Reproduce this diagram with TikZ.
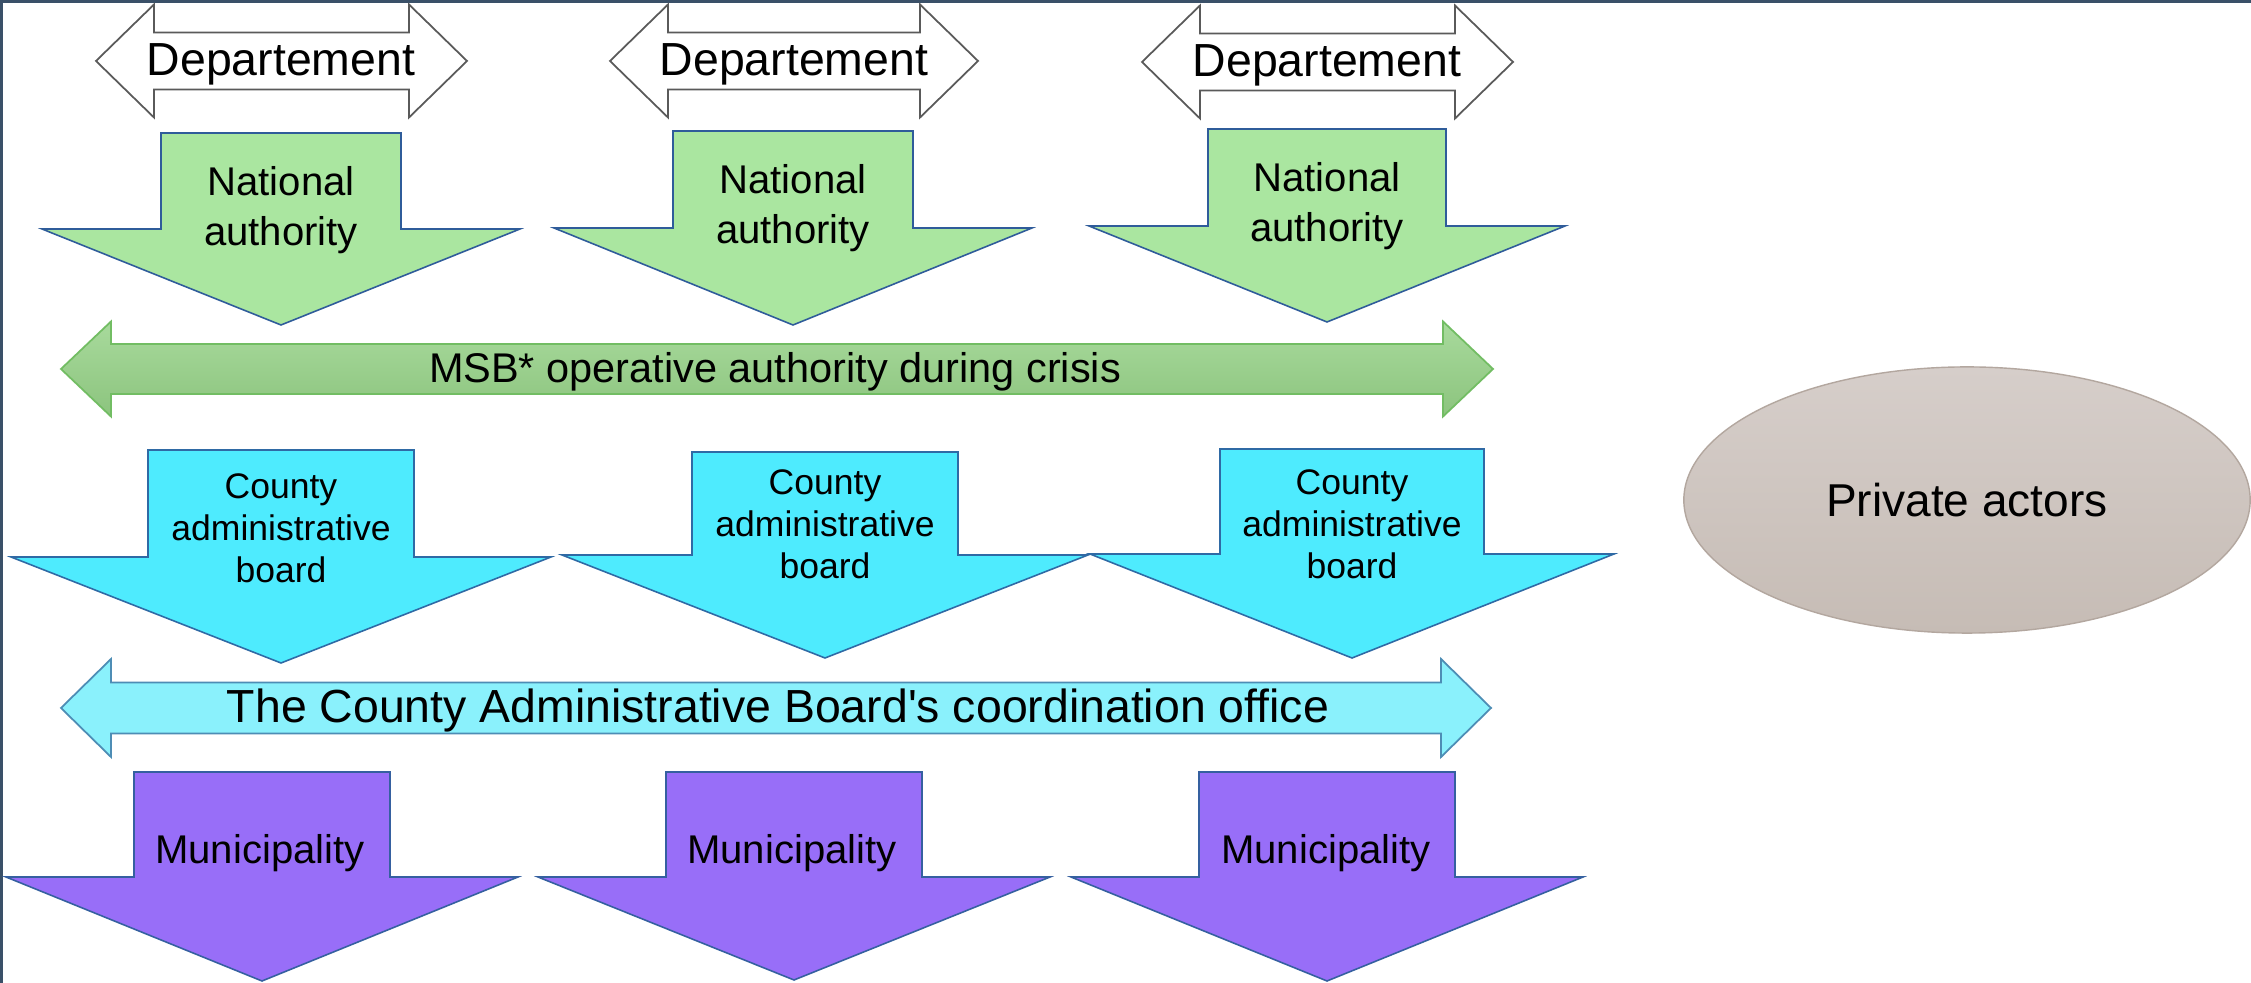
\documentclass[tikz,border=0pt]{standalone}
\usepackage{fontspec}
\setmainfont{Liberation Sans}
\usetikzlibrary{shapes.geometric}
\definecolor{frameline}{HTML}{3A5068}
\definecolor{depline}{HTML}{5A5A5A}
\definecolor{natfill}{HTML}{AAE6A0}
\definecolor{natline}{HTML}{2F5C9A}
\definecolor{msbtop}{HTML}{A8DA9C}
\definecolor{msbbot}{HTML}{8CC47E}
\definecolor{msbline}{HTML}{72BD63}
\definecolor{cabfill}{HTML}{4EEBFE}
\definecolor{cabline}{HTML}{2F6AA5}
\definecolor{coordfill}{HTML}{8AF1FC}
\definecolor{coordline}{HTML}{4D8DB5}
\definecolor{munfill}{HTML}{986EF8}
\definecolor{munline}{HTML}{3560A0}
\definecolor{privtop}{HTML}{D6CECA}
\definecolor{privbot}{HTML}{C6BCB5}
\definecolor{privline}{HTML}{B3A79F}
\newcommand{\blockdown}[7]{\draw[#1] ({#2-#6},#3) -- ({#2+#6},#3) -- ({#2+#6},#4) -- ({#2+#7},#4) -- (#2,#5) -- ({#2-#7},#4) -- ({#2-#6},#4) -- cycle;}
\newcommand{\blockboth}[7]{\draw[#1] (#2,#4) -- ({#2+#5},{#4-#6}) -- ({#2+#5},{#4-#7}) -- ({#3-#5},{#4-#7}) -- ({#3-#5},{#4-#6}) -- (#3,#4) -- ({#3-#5},{#4+#6}) -- ({#3-#5},{#4+#7}) -- ({#2+#5},{#4+#7}) -- ({#2+#5},{#4+#6}) -- cycle;}
\tikzset{
  deparrow/.style={draw=depline, fill=white, line width=0.5pt},
  natarrow/.style={draw=natline, fill=natfill, line width=0.45pt},
  msbarrow/.style={draw=msbline, top color=msbtop, bottom color=msbbot, line width=0.5pt},
  cabarrow/.style={draw=cabline, fill=cabfill, line width=0.45pt},
  coordarrow/.style={draw=coordline, fill=coordfill, line width=0.5pt},
  munarrow/.style={draw=munline, fill=munfill, line width=0.45pt},
  txt/.style={inner sep=0pt, outer sep=0pt, text=black},
  deptext/.style={txt, font=\fontsize{13.2pt}{15.8pt}\selectfont},
  nattext/.style={txt, align=center, font=\fontsize{11.4pt}{14.2pt}\selectfont},
  cabtext/.style={txt, align=center, font=\fontsize{10.1pt}{12pt}\selectfont},
  msbtext/.style={txt, font=\fontsize{11.8pt}{14pt}\selectfont},
  coordtext/.style={txt, font=\fontsize{13.2pt}{15.8pt}\selectfont},
  muntext/.style={txt, font=\fontsize{11.4pt}{14pt}\selectfont},
  privnode/.style={ellipse, draw=privline, line width=0.4pt, top color=privtop, bottom color=privbot,
    minimum width=5.66cm, minimum height=2.66cm, inner sep=0pt, font=\fontsize{13.1pt}{15.7pt}\selectfont}
}
\begin{document}
\begin{tikzpicture}[x=0.01cm, y=-0.01cm, line join=miter]
\useasboundingbox (0,0) rectangle (2251,983);
\fill[white] (0,0) rectangle (2251,983);
\draw[frameline, line width=0.9pt] (1.5,983) -- (1.5,1.5) -- (2251,1.5);

% Departement arrows
\blockboth{deparrow}{96}{467}{61}{58}{56.5}{28.5}
\blockboth{deparrow}{610}{978}{61}{58}{56.5}{28.5}
\blockboth{deparrow}{1142}{1513}{62}{58}{56.5}{28.5}
\node[deptext, anchor=base] (dep1) at (281,76) {Departement};
\node[deptext, anchor=base] (dep2) at (794,76) {Departement};
\node[deptext, anchor=base] (dep3) at (1327,77) {Departement};

% National authority arrows
\blockdown{natarrow}{281}{133}{229}{325}{120}{239}
\blockdown{natarrow}{793}{131}{228}{325}{120}{239}
\blockdown{natarrow}{1327}{129}{226}{322}{119}{238}
\node[nattext] (nat1) at (281,210) {National\\authority};
\node[nattext] (nat2) at (793,208) {National\\authority};
\node[nattext] (nat3) at (1327,206) {National\\authority};

% MSB arrow
\blockboth{msbarrow}{61}{1493}{369}{50}{47.5}{25}
\node[msbtext, anchor=base] (msb) at (775,383) {MSB* operative authority during crisis};

% County administrative board arrows
\blockdown{cabarrow}{281}{450}{557}{663}{133}{270}
\blockdown{cabarrow}{825}{452}{555}{658}{133}{263}
\blockdown{cabarrow}{1352}{449}{554}{658}{132}{262}
\node[cabtext] (cab1) at (281,528) {County\\administrative\\board};
\node[cabtext] (cab2) at (825,524) {County\\administrative\\board};
\node[cabtext] (cab3) at (1352,524) {County\\administrative\\board};

% Coordination office arrow
\blockboth{coordarrow}{61}{1491}{708}{50}{49}{25.5}
\node[coordtext, anchor=base] (coord) at (778,723) {The County Administrative Board\textquotesingle s coordination office};

% Municipality arrows
\blockdown{munarrow}{262}{772}{877}{981}{128}{256}
\blockdown{munarrow}{794}{772}{877}{980}{128}{256}
\blockdown{munarrow}{1327}{772}{877}{981}{128}{256}
\node[muntext, anchor=base] (mun1) at (260,864) {Municipality};
\node[muntext, anchor=base] (mun2) at (792,864) {Municipality};
\node[muntext, anchor=base] (mun3) at (1326,864) {Municipality};

% Private actors
\node[privnode] (private) at (1967,500) {Private actors};
\end{tikzpicture}
\end{document}
